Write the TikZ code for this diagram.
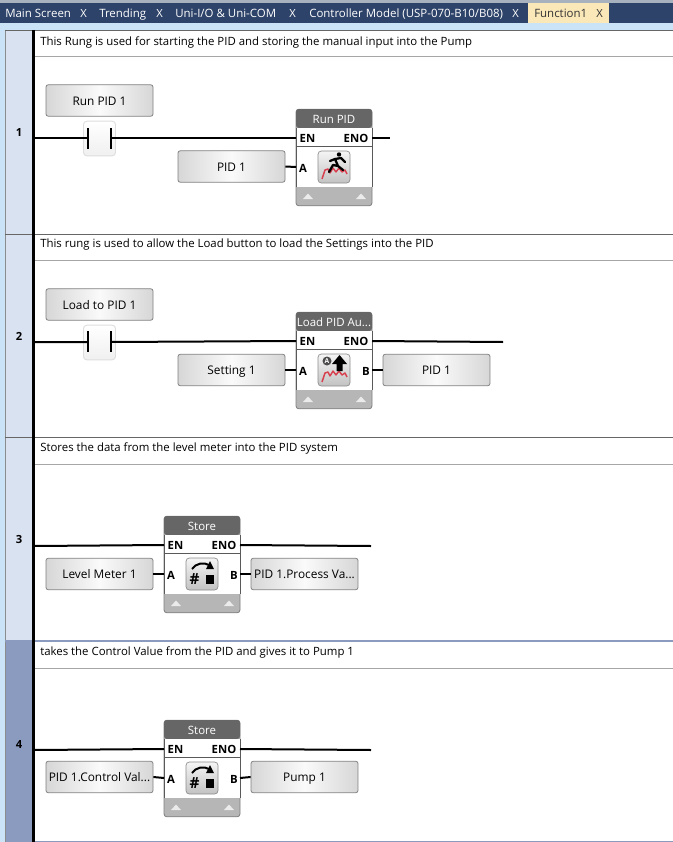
\documentclass[tikz,border=0pt]{standalone}
\usepackage{fontspec}
\setmainfont{Open Sans}
\usetikzlibrary{calc,positioning}

\definecolor{tabnavy}{HTML}{2E4369}
\definecolor{tabgrey}{HTML}{A8B2BE}
\definecolor{tabfocus}{HTML}{FBE8B8}
\definecolor{skyedge}{HTML}{CBE3F6}
\definecolor{rungpale}{HTML}{D8E2F0}
\definecolor{rungdark}{HTML}{8A9BBF}
\definecolor{headgrey}{HTML}{666666}
\definecolor{footgrey}{HTML}{B6B6B6}
\definecolor{wavered}{HTML}{D8404F}

\tikzset{
    wire/.style={line width=1.5pt,black},
    tabtext/.style={text=white,font=\fontsize{8.6}{10}\selectfont,inner sep=0pt,anchor=west,text height=7pt,text depth=1.5pt},
    closemark/.style={text=white,font=\fontsize{8.4}{10}\selectfont,inner sep=0pt},
    notetext/.style={font=\fontsize{8.55}{10}\selectfont,inner sep=0pt,anchor=west,text height=7pt,text depth=1.5pt},
    rungnum/.style={font=\fontsize{8.4}{10}\selectfont\bfseries,inner sep=0pt},
    btn/.style={draw=black!50,line width=0.6pt,rounded corners=1.6pt,minimum width=80.25pt,minimum height=23.5pt,
        inner sep=0pt,left color=black!16,right color=black!16,middle color=black!2,
        text height=8pt,text depth=1pt,font=\fontsize{8.9}{10}\selectfont},
    contact/.style={draw=black!13,line width=0.7pt,rounded corners=2.5pt,minimum width=24pt,minimum height=26pt,
        top color=white,bottom color=black!6,inner sep=0pt},
    blockbody/.style={draw=black!50,line width=0.6pt,rounded corners=2.2pt,fill=footgrey,minimum width=57pt,minimum height=72.5pt,inner sep=0pt},
    pinlabel/.style={font=\fontsize{8.5}{10}\selectfont\bfseries,inner sep=0pt,text height=7pt,text depth=0pt},
    blocktitle/.style={text=white,font=\fontsize{8.6}{10}\selectfont,inner sep=0pt,text height=8pt,text depth=1pt},
    iconbox/.style={draw=black!45,line width=0.5pt,rounded corners=2.5pt,minimum width=24pt,minimum height=24pt,
        inner sep=0pt,top color=black!4,bottom color=black!24},
}

% function block: name, left, top, title
\newcommand{\fblock}[4]{%
    \begin{scope}[shift={(#2,#3)}]
        \node[blockbody] (#1) at (38,48.5) {};
        \fill[headgrey,rounded corners=2.2pt] (0,19) -- (0,0) -- (76,0) -- (76,19) -- cycle;
        \fill[white] (0.4,19) rectangle (75.6,78);
        \draw[black!65,line width=0.5pt] (0,19) -- (0,78) (76,19) -- (76,78) (0,37.5) -- (76,37.5);
        \fill[black!8] (7,90) -- (12,84.5) -- (17,90) -- cycle;
        \fill[black!8] (60,90) -- (65,84.5) -- (70,90) -- cycle;
        \node[blocktitle] (#1-title) at (38,9.5) {#4};
        \node[pinlabel] (#1-en) at (11.5,29) {EN};
        \node[pinlabel] (#1-eno) at (60,29) {ENO};
        \node[pinlabel] (#1-a) at (7,59) {A};
        \coordinate (#1-enin) at (0,29);
        \coordinate (#1-enout) at (76,29);
        \coordinate (#1-ain) at (0,58);
        \coordinate (#1-bout) at (76,58);
        \node[iconbox] (#1-icon) at (38,58) {};
    \end{scope}%
}
\newcommand{\redwave}[1]{%
    \draw[wavered,line width=1.1pt,line join=round] ($(#1)+(-12,12)$) -- ($(#1)+(-9,3)$) -- ($(#1)+(-6,2)$) -- ($(#1)+(-4,6)$) -- ($(#1)+(-1,1)$)
        -- ($(#1)+(2,5)$) -- ($(#1)+(5,1)$) -- ($(#1)+(8,5)$) -- ($(#1)+(11,3)$) -- ($(#1)+(13,7)$);%
}
\newcommand{\storeicon}[1]{%
    \draw[black,line width=1.5pt] ($(#1)+(-10,-5)$) .. controls ($(#1)+(-6,-11)$) and ($(#1)+(2,-12)$) .. ($(#1)+(7,-9)$);
    \fill[black] ($(#1)+(12,-5)$) -- ($(#1)+(4,-5)$) -- ($(#1)+(8,-13)$) -- cycle;
    \fill[black] ($(#1)+(3.5,1)$) rectangle ($(#1)+(11.5,10)$);
    \node[inner sep=0pt,font=\fontsize{11.5}{10}\selectfont\bfseries] at ($(#1)+(-7.5,5.5)$) {\#};%
}

\begin{document}
\begin{tikzpicture}[x=0.75pt,y=-0.75pt]
    \useasboundingbox (0,0) rectangle (673,842);
    \fill[white] (0,0) rectangle (673,842);

    % tab strip
    \fill[tabgrey] (0,0) rectangle (673,3.5);
    \fill[tabnavy] (0,3.5) rectangle (673,23);
    \fill[skyedge] (0,23) rectangle (673,30);
    \fill[tabfocus] (528,3.5) rectangle (609,23);
    \node[tabtext] (tab1) at (5,14) {Main Screen};
    \node[closemark] (tabx1) at (83.5,14) {X};
    \node[tabtext] (tab2) at (99,14) {Trending};
    \node[closemark] (tabx2) at (159.5,14) {X};
    \node[tabtext] (tab3) at (175,14) {Uni-I/O \& Uni-COM};
    \node[closemark] (tabx3) at (292.5,14) {X};
    \node[tabtext] (tab4) at (309,14) {Controller Model (USP-070-B10/B08)};
    \node[closemark] (tabx4) at (515.5,14) {X};
    \node[tabtext,text=black!80] (tab5) at (534,14) {Function1};
    \node[closemark,text=black!80] (tabx5) at (599.5,14) {X};

    % rung columns
    \fill[skyedge] (0,30) rectangle (5,842);
    \fill[rungpale] (5,30) rectangle (33,641);
    \fill[rungdark] (5,641) rectangle (33,842);
    \draw[black!45,line width=0.5pt] (5.3,30) -- (5.3,842);
    \draw[black!60,line width=0.75pt] (5,31) -- (673,31) (5,234) -- (673,234) (5,437) -- (673,437);
    \draw[rungdark,line width=1.2pt] (5,641) -- (673,641) (33,841.5) -- (673,841.5);
    \draw[black!35,line width=0.75pt] (34,57) -- (673,57) (34,260.5) -- (673,260.5) (34,464) -- (673,464) (34,668) -- (673,668);
    \draw[black,line width=1.6pt] (33.5,30) -- (33.5,842);

    \node[rungnum] (num1) at (19,133) {1};
    \node[rungnum] (num2) at (19,336) {2};
    \node[rungnum] (num3) at (19,539) {3};
    \node[rungnum] (num4) at (19,744) {4};

    \node[notetext] (note1) at (40,41.5) {This Rung is used for starting the PID and storing the manual input into the Pump};
    \node[notetext] (note2) at (40,243.5) {This rung is used to allow the Load button to load the Settings into the PID};
    \node[notetext] (note3) at (40,448) {Stores the data from the level meter into the PID system};
    \node[notetext] (note4) at (40,652) {takes the Control Value from the PID and gives it to Pump 1};

    % rung 1
    \node[btn] (run) at (99.5,100.5) {Run PID 1};
    \node[contact] (cont1) at (99.5,138.5) {};
    \fblock{runpid}{296}{109}{Run PID}
    \node[btn] (pid1a) at (231.5,166.5) {PID 1};
    \coordinate (rail1) at (34,138);
    \coordinate (c1l) at (88,138);
    \coordinate (c1r) at (111,138);
    \coordinate (end1) at (390,138);
    \draw[wire] (rail1) -- (c1l) (c1r) -- (runpid-enin) (runpid-enout) -- (end1);
    \draw[wire] (88,128) -- (88,149) (111,128) -- (111,149);
    \draw[wire] (pid1a.east) -- (runpid-ain);
    \redwave{runpid-icon}
    \fill[black] (339,154.5) circle (2.2);
    \draw[black,line width=1.7pt,line cap=round,line join=round] (329,172) -- (333,165) -- (338,166) -- (335,159) -- (341,158) -- (345,162)
        (335,159) -- (330,161) (338,166) -- (343,170);

    % rung 2
    \node[btn] (load) at (99.5,304.5) {Load to PID 1};
    \node[contact] (cont2) at (99.5,342.5) {};
    \fblock{loadpid}{296}{312}{Load PID Au...}
    \node[btn] (setting) at (231.5,370) {Setting 1};
    \node[btn] (pid1b) at (436.5,370) {PID 1};
    \node[pinlabel] (loadpid-b) at (366,371) {B};
    \coordinate (rail2) at (34,342);
    \coordinate (c2l) at (88,342);
    \coordinate (c2r) at (111,342);
    \coordinate (end2) at (503,342);
    \draw[wire] (rail2) -- (c2l) (c2r) -- (loadpid-enin) (loadpid-enout) -- (end2);
    \draw[wire] (88,331) -- (88,352) (111,331) -- (111,352);
    \draw[wire] (setting.east) -- (loadpid-ain) (loadpid-bout) -- (pid1b.west);
    \redwave{loadpid-icon}
    \fill[black!70] (327,361) circle (4.5);
    \node[inner sep=0pt,text=white,font=\fontsize{5}{5}\selectfont\bfseries] (loadA) at (327,361) {A};
    \fill[black] (339.5,355) -- (347,364) -- (342.5,364) -- (342.5,371) -- (336.5,371) -- (336.5,364) -- (332,364) -- cycle;

    % rung 3
    \node[btn] (level) at (99.5,574) {Level Meter 1};
    \fblock{store1}{164}{516}{Store}
    \node[btn] (procval) at (304.5,574) {PID 1.Process Va...};
    \node[pinlabel] (store1-b) at (234,575) {B};
    \coordinate (rail3) at (34,546);
    \coordinate (end3) at (371,546);
    \draw[wire] (rail3) -- (store1-enin) (store1-enout) -- (end3);
    \draw[wire] (level.east) -- (store1-ain) (store1-bout) -- (procval.west);
    \storeicon{store1-icon}

    % rung 4
    \node[btn] (ctrlval) at (99.5,777) {PID 1.Control Val...};
    \fblock{store2}{164}{720}{Store}
    \node[btn] (pump) at (304.5,777) {Pump 1};
    \node[pinlabel] (store2-b) at (234,779) {B};
    \coordinate (rail4) at (34,750);
    \coordinate (end4) at (371,750);
    \draw[wire] (rail4) -- (store2-enin) (store2-enout) -- (end4);
    \draw[wire] (ctrlval.east) -- (store2-ain) (store2-bout) -- (pump.west);
    \storeicon{store2-icon}
\end{tikzpicture}
\end{document}
